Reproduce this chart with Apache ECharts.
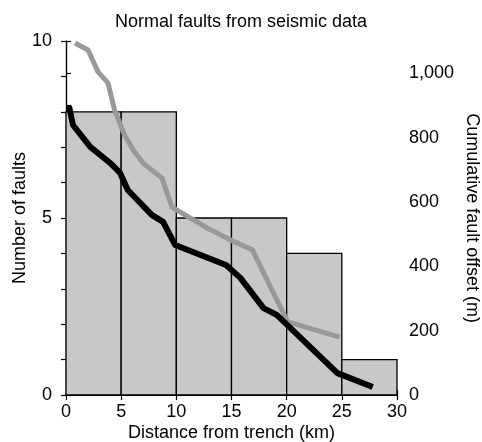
<!DOCTYPE html>
<html><head><meta charset="utf-8">
<script src="https://cdn.jsdelivr.net/npm/echarts@6/dist/echarts.min.js"></script>
<style>html,body{margin:0;padding:0;background:#fff}#c{width:482px;height:442px}</style>
</head><body><div id="c"></div>
<script>
// Histogram bins (km) and counts
var binStarts = [0, 5, 10, 15, 20, 25];
var binEnds = [5, 10, 15, 20, 25, 30];
var faultCounts = [8, 8, 5, 5, 4, 1];
// Black line (km, m)
var blackKm = [0.27, 0.63, 2.2, 4.0, 4.9, 5.6, 7.8, 8.8, 9.9, 14.5, 15.8, 17.9, 19.1, 24.6, 27.8];
var blackM  = [898, 839, 771, 721, 690, 637, 559, 538, 466, 404, 364, 270, 249, 68, 25];
// Gray line (km, m)
var grayKm = [0.82, 2.0, 2.9, 3.8, 4.4, 5.3, 6.1, 7.0, 8.7, 9.6, 12.8, 14.9, 16.9, 18.8, 20.1, 24.8];
var grayM  = [1094, 1072, 1004, 970, 886, 808, 761, 720, 674, 584, 519, 482, 451, 317, 227, 180];
// Axis labels
var leftLabels = [0, 5, 10];
var rightLabels = [0, 200, 400, 600, 800, 1000];

var FONT = 'Liberation Sans, Arial, sans-serif';
var FS = 18;
var chart = echarts.init(document.getElementById('c'), null, {renderer: 'canvas'});
var binData = binStarts.map(function (s, i) { return [s, binEnds[i], faultCounts[i]]; });
var blackData = blackKm.map(function (k, i) { return [k, blackM[i]]; });
var grayData = grayKm.map(function (k, i) { return [k, grayM[i]]; });
var axisLine = {show: true, lineStyle: {color: '#000', width: 1.2}};
var axisTick = {show: true, inside: false, length: 5, lineStyle: {color: '#000', width: 1.2}};
var nameStyle = {fontFamily: FONT, fontSize: FS, color: '#000'};

chart.setOption({
  animation: false,
  backgroundColor: '#fff',
  title: {text: 'Normal faults from seismic data', left: 'center', top: 8,
    textStyle: {fontFamily: FONT, fontSize: FS, fontWeight: 'normal', color: '#000'}},
  grid: {left: 66, right: 85, top: 41, bottom: 47, containLabel: false, outerBoundsMode: 'none'},
  xAxis: [{
    type: 'value', min: 0, max: 30, interval: 5, position: 'bottom',
    name: 'Distance from trench (km)', nameLocation: 'middle', nameGap: 29, nameMoveOverlap: false,
    nameTextStyle: nameStyle,
    axisLine: axisLine, axisTick: axisTick, splitLine: {show: false},
    axisLabel: {fontFamily: FONT, fontSize: FS, color: '#000', margin: 8}
  }, {
    type: 'value', min: 0, max: 30, interval: 5, position: 'top',
    axisLine: axisLine, axisTick: axisTick, splitLine: {show: false},
    axisLabel: {show: false}
  }],
  yAxis: [{
    type: 'value', min: 0, max: 10, interval: 1, position: 'left',
    name: 'Number of faults', nameLocation: 'middle', nameGap: 37, nameRotate: 90, nameMoveOverlap: false,
    nameTextStyle: nameStyle,
    axisLine: axisLine, axisTick: axisTick, splitLine: {show: false},
    axisLabel: {fontFamily: FONT, fontSize: FS, color: '#000', margin: 14,
      formatter: function (v) { return leftLabels.indexOf(v) >= 0 ? String(v) : ''; }}
  }, {
    type: 'value', min: 0, max: 1100, interval: 100, position: 'right',
    name: 'Cumulative fault offset (m)', nameLocation: 'middle', nameGap: 66, nameRotate: -90, nameMoveOverlap: false,
    nameTextStyle: nameStyle,
    axisLine: axisLine, axisTick: axisTick, splitLine: {show: false},
    axisLabel: {fontFamily: FONT, fontSize: FS, color: '#000', margin: 12,
      formatter: function (v) { return rightLabels.indexOf(v) >= 0 ? v.toLocaleString('en-US') : ''; }}
  }],
  series: [{
    type: 'custom', xAxisIndex: 0, yAxisIndex: 0, data: binData, z: 1,
    renderItem: function (params, api) {
      var p0 = api.coord([api.value(0), api.value(2)]);
      var p1 = api.coord([api.value(1), 0]);
      return {type: 'rect', shape: {x: p0[0], y: p0[1], width: p1[0] - p0[0], height: p1[1] - p0[1]},
        style: {fill: '#c8c8c8', stroke: '#000', lineWidth: 1.3}};
    },
    encode: {x: [0, 1], y: 2}
  }, {
    type: 'line', xAxisIndex: 0, yAxisIndex: 1, data: grayData, symbol: 'none', z: 3,
    lineStyle: {color: '#999999', width: 5, join: 'round'}
  }, {
    type: 'line', xAxisIndex: 0, yAxisIndex: 1, data: blackData, symbol: 'none', z: 4,
    lineStyle: {color: '#000', width: 6, join: 'round'}
  }]
});
</script></body></html>
